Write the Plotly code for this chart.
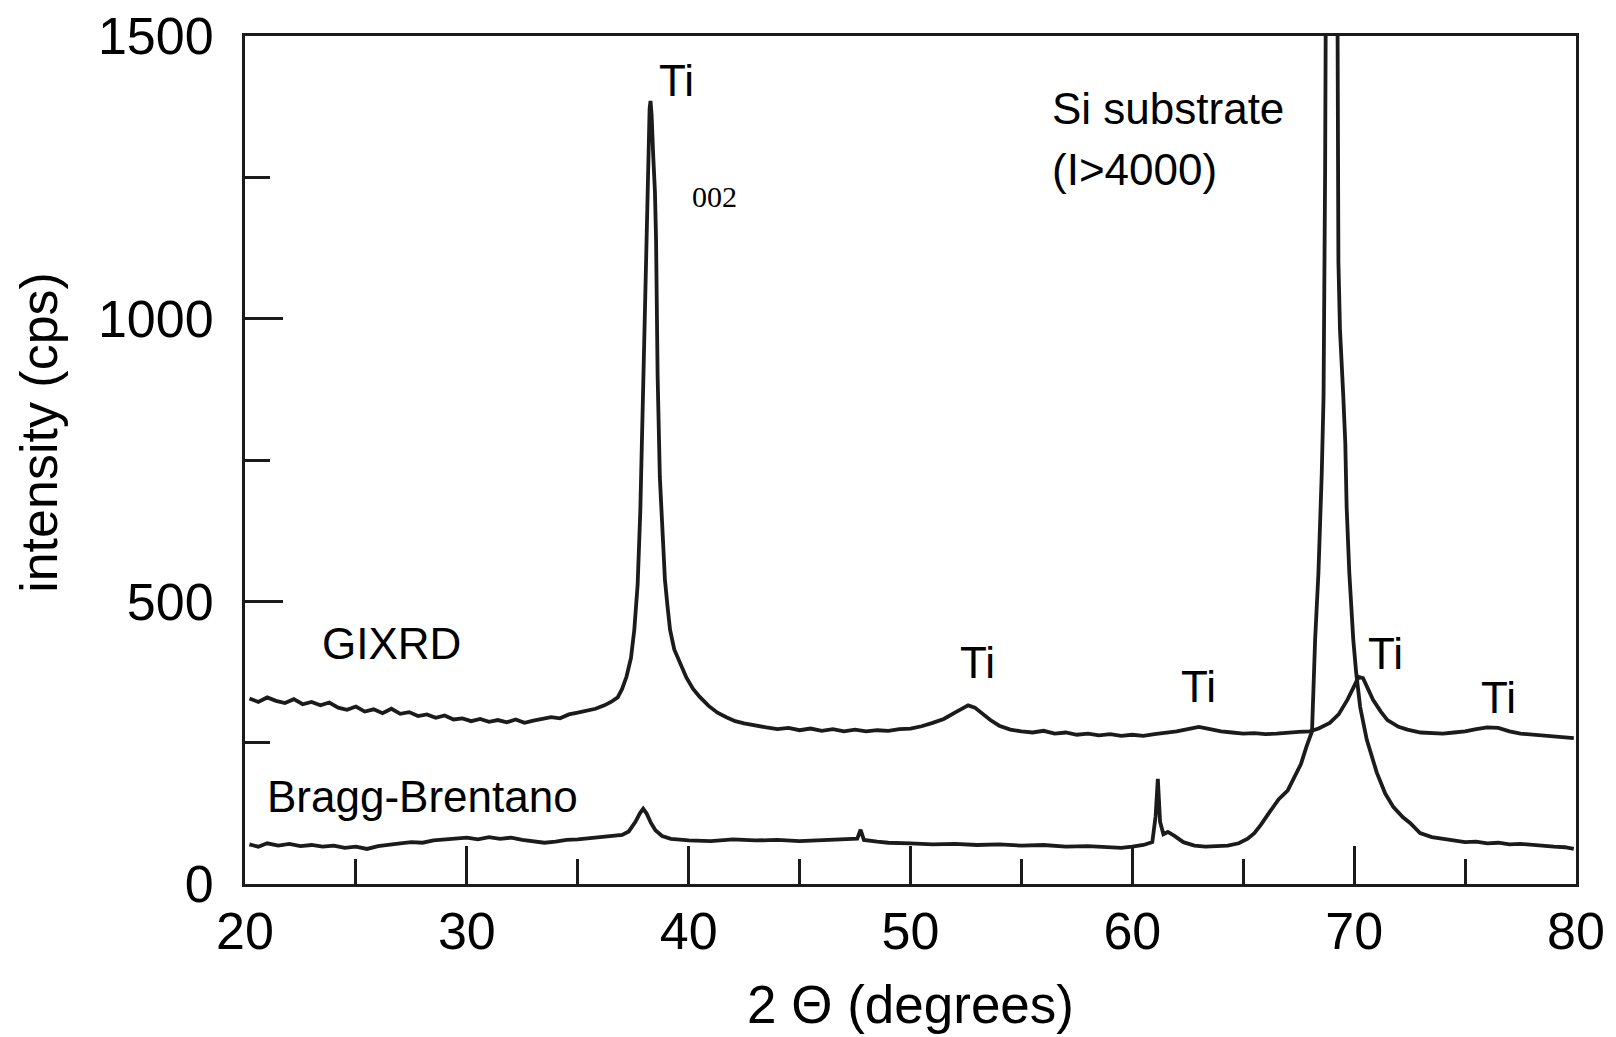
import plotly.graph_objects as go

# ---------------- data ----------------
gixrd_x = [20.2, 20.6, 21.0, 21.4, 21.8, 22.2, 22.6, 23.0, 23.4, 23.8, 24.2, 24.6, 25.0, 25.4,
           25.8, 26.2, 26.6, 27.0, 27.4, 27.8, 28.2, 28.6, 29.0, 29.4, 29.8, 30.2, 30.6, 31.0,
           31.4, 31.8, 32.2, 32.6, 33.0, 33.4, 33.8, 34.2, 34.6, 35.0, 35.4, 35.8, 36.2, 36.5,
           36.8, 37.0, 37.2, 37.4, 37.55, 37.7, 37.82, 37.95, 38.05, 38.12, 38.18, 38.24, 38.28,
           38.33, 38.4, 38.48, 38.53, 38.6, 38.7, 38.82, 38.93, 39.05, 39.16, 39.35, 39.6, 39.9,
           40.2, 40.5, 40.9, 41.3, 41.7, 42.1, 42.5, 43.0, 43.5, 44.0, 44.5, 45.0, 45.5, 46.0,
           46.5, 47.0, 47.5, 48.0, 48.5, 49.0, 49.5, 50.0, 50.5, 51.0, 51.5, 52.0, 52.3, 52.6,
           52.9, 53.2, 53.6, 54.0, 54.5, 55.0, 55.5, 56.0, 56.5, 57.0, 57.5, 58.0, 58.5, 59.0,
           59.5, 60.0, 60.5, 61.0, 61.5, 62.0, 62.5, 63.0, 63.5, 64.0, 64.5, 65.0, 65.5, 66.0,
           66.5, 67.0, 67.5, 68.0, 68.4, 68.9, 69.3, 69.7, 70.0, 70.2, 70.4, 70.6, 70.85, 71.2,
           71.5, 72.0, 72.4, 73.0, 73.5, 74.0, 74.5, 75.0, 75.5, 76.0, 76.5, 77.0, 77.5, 78.0,
           78.5, 79.0, 79.5, 79.9]
gixrd_y = [328, 322, 330, 324, 320, 327, 318, 322, 316, 321, 312, 308, 314, 305,
           309, 302, 310, 301, 304, 297, 300, 294, 298, 291, 293, 288, 292, 287,
           290, 286, 291, 285, 289, 292, 295, 293, 300, 303, 306, 310, 316, 322,
           330, 345, 367, 400, 450, 530, 660, 890, 1060, 1194, 1330, 1372, 1385,
           1360, 1290, 1224, 1140, 900, 720, 620, 538, 490, 450, 415, 391, 365,
           345, 331, 315, 303, 295, 288, 284, 280, 277, 274, 276, 272, 275, 271,
           274, 270, 273, 270, 272, 271, 274, 275, 279, 285, 292, 303, 310, 316,
           312, 302, 290, 280, 273, 270, 268, 271, 266, 268, 264, 266, 263, 265,
           262, 264, 262, 265, 267, 270, 274, 278, 274, 270, 268, 266, 267, 265,
           266, 268, 269, 270, 275, 285, 300, 326, 352, 366, 364, 348, 326, 305,
           290, 278, 273, 268, 267, 266, 268, 270, 274, 277, 276, 270, 266, 264,
           262, 261, 259, 258]

bb_x = [20.2, 20.6, 21.0, 21.5, 22.0, 22.5, 23.0, 23.5, 24.0, 24.5, 25.0, 25.5, 26.0, 26.5,
        27.0, 27.5, 28.0, 28.5, 29.0, 29.5, 30.0, 30.5, 31.0, 31.5, 32.0, 32.5, 33.0, 33.5,
        34.0, 34.5, 35.0, 35.5, 36.0, 36.5, 37.0, 37.3, 37.6, 37.8, 37.95, 38.1, 38.3, 38.5,
        38.8, 39.2, 39.6, 40.0, 41.0, 42.0, 43.0, 44.0, 45.0, 46.0, 47.0, 47.6, 47.75, 47.9,
        48.5, 49.0, 50.0, 51.0, 52.0, 53.0, 54.0, 55.0, 56.0, 57.0, 58.0, 59.0, 59.5, 60.0,
        60.5, 60.9, 61.05, 61.15, 61.25, 61.4, 61.6, 61.9, 62.3, 62.8, 63.3, 63.8, 64.3, 64.8,
        65.2, 65.5, 65.8, 66.2, 66.6, 67.0, 67.3, 67.6, 67.85, 68.1, 68.24, 68.39, 68.54, 68.62,
        68.69, 69.0, 69.29, 69.36, 69.51, 69.6, 69.66, 69.78, 69.96, 70.09, 70.27, 70.57, 71.02,
        71.4, 71.77, 72.2, 72.52, 72.97, 73.5, 74.0, 74.5, 75.0, 75.5, 76.0, 76.5, 77.0, 77.5,
        78.0, 78.5, 79.0, 79.5, 79.9]
bb_y = [70, 66, 72, 68, 71, 67, 69, 66, 68, 64, 66, 62, 67, 70,
        72, 74, 73, 77, 79, 80, 82, 79, 83, 80, 82, 78, 76, 73,
        75, 78, 79, 81, 82, 84, 87, 93, 110, 125, 133, 125, 108, 95,
        85, 80, 78, 77, 76, 79, 77, 78, 76, 77, 78, 80, 96, 78,
        75, 73, 72, 70, 71, 69, 70, 68, 69, 66, 67, 65, 64, 66,
        69, 74, 120, 186, 110, 88, 92, 85, 74, 68, 66, 67, 68, 72,
        80, 90, 105, 128, 150, 165, 190, 212, 243, 270, 432, 551, 728, 862,
        1259, 4200, 1100, 981, 862, 780, 668, 551, 432, 374, 313, 255, 197,
        160, 136, 118, 108, 90, 83, 80, 77, 74, 75, 72, 73, 70, 71,
        69, 68, 66, 65, 62]

x_ticks = [20, 30, 40, 50, 60, 70, 80]
y_ticks = [0, 500, 1000, 1500]

# peak labels: (text, x, y)
peak_labels = [("Ti", 39.45, 1421), ("Ti", 53.0, 391), ("Ti", 62.96, 349),
               ("Ti", 71.39, 407), ("Ti", 76.51, 330)]
series_labels = [("GIXRD", 26.61, 425), ("Bragg-Brentano", 27.98, 154)]

# ---------------- figure ----------------
INK = "#1b1b1b"
FONT = "Liberation Sans"

fig = go.Figure()
fig.add_trace(go.Scatter(x=gixrd_x, y=gixrd_y, mode="lines", name="GIXRD",
                         line=dict(color=INK, width=3.8), showlegend=False))
fig.add_trace(go.Scatter(x=bb_x, y=bb_y, mode="lines", name="Bragg-Brentano",
                         line=dict(color=INK, width=3.8), showlegend=False))

for t, x, y in peak_labels + series_labels:
    fig.add_annotation(x=x, y=y, text=t, showarrow=False, xanchor="center", yanchor="middle",
                       font=dict(family=FONT, size=44, color="black"))

fig.add_annotation(x=41.17, y=1216, text="002", showarrow=False,
                   font=dict(family="Liberation Serif", size=30, color="black"))
fig.add_annotation(x=56.29, y=1372, text="Si substrate", showarrow=False, xanchor="left",
                   font=dict(family=FONT, size=44, color="black"))
fig.add_annotation(x=56.29, y=1263, text="(I>4000)", showarrow=False, xanchor="left",
                   font=dict(family=FONT, size=44, color="black"))

# y-axis title (placed as rotated text so it sits where the original has it)
fig.add_annotation(x=0, xref="paper", xshift=-206, y=0.532, yref="paper",
                   text="intensity (cps)", textangle=-90, showarrow=False,
                   xanchor="center", yanchor="middle",
                   font=dict(family=FONT, size=52, color="black"))

axis_common = dict(showgrid=False, zeroline=False, showline=True, linecolor=INK, linewidth=3,
                   mirror=True, ticks="inside", tickcolor=INK, tickwidth=2.5, ticklen=38,
                   automargin=False,
                   tickfont=dict(family=FONT, size=52, color="black"))

fig.update_xaxes(range=[20, 80], tickvals=x_ticks, ticktext=[str(v) for v in x_ticks],
                 minor=dict(dtick=5, tick0=20, ticks="inside", ticklen=25, tickwidth=2.5,
                            tickcolor=INK, showgrid=False),
                 ticklabelstandoff=0,
                 title=dict(text="2 Θ (degrees)", font=dict(family=FONT, size=53, color="black"),
                            standoff=27),
                 **axis_common)
fig.update_yaxes(range=[0, 1500], tickvals=y_ticks, ticktext=[str(v) for v in y_ticks],
                 minor=dict(dtick=250, tick0=0, ticks="inside", ticklen=25, tickwidth=2.5,
                            tickcolor=INK, showgrid=False),
                 ticklabelstandoff=18,
                 **axis_common)

fig.update_layout(width=1616, height=1037, plot_bgcolor="white", paper_bgcolor="white",
                  margin=dict(l=245, r=40, t=36, b=153), showlegend=False)

fig.write_html("out.html")
